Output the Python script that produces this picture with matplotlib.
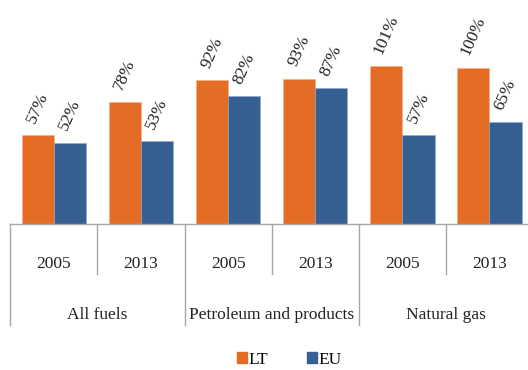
import matplotlib
matplotlib.use("Agg")
import matplotlib.pyplot as plt
from matplotlib.patches import Patch

plt.rcParams['font.family'] = ['Liberation Serif', 'DejaVu Serif']

groups = ["All fuels", "Petroleum and products", "Natural gas"]
years = ["2005", "2013", "2005", "2013", "2005", "2013"]
lt = [57, 78, 92, 93, 101, 100]
eu = [52, 53, 82, 87, 57, 65]

c_lt = "#E46C25"
c_eu = "#366092"
c_line = "#A6A6A6"
c_text = "#222222"

fig = plt.figure(figsize=(5.28, 3.70), dpi=100)
ax = fig.add_axes([0.0197, 0.3946, 0.9896, 0.6054])

x = list(range(len(years)))
w = 0.37
ax.bar([i - w / 2 for i in x], lt, width=w, color=c_lt, edgecolor="#F4B183", linewidth=0.4)
ax.bar([i + w / 2 for i in x], eu, width=w, color=c_eu, edgecolor="#8EA9DB", linewidth=0.4)

# rotated value labels above each bar
for i in x:
    for off, v in ((-w / 2, lt[i]), (w / 2, eu[i])):
        ax.annotate(f"{v}%", (i + off, v), xytext=(0, 7), textcoords="offset points",
                    rotation=66, ha="center", va="bottom", fontsize=12.5, color=c_text)

ax.set_xlim(-0.5, len(years) - 0.5)
ax.set_ylim(0, 143.4)
ax.set_xticks([])
ax.set_yticks([])
for s in ("left", "right", "top"):
    ax.spines[s].set_visible(False)
ax.spines["bottom"].set_color(c_line)
ax.spines["bottom"].set_linewidth(1)

# two-level category axis drawn below the plot
tr = ax.get_xaxis_transform()
ax.plot([-0.5, -0.5], [0, -0.449], transform=tr, color=c_line, lw=1, clip_on=False)
for i in x:
    xs = i + 0.5
    bottom = -0.223 if i % 2 == 0 else -0.449
    ax.plot([xs, xs], [0, bottom], transform=tr, color=c_line, lw=1, clip_on=False)
    ax.text(i, -0.179, years[i], transform=tr, ha="center", va="center",
            fontsize=12.5, color=c_text)
for g, name in enumerate(groups):
    ax.text(2 * g + 0.5, -0.406, name, transform=tr, ha="center", va="center",
            fontsize=12.5, color=c_text)

handles = [Patch(color=c_lt, label="LT"), Patch(color=c_eu, label="EU")]
fig.legend(handles=handles, loc="center", bbox_to_anchor=(0.548, 0.027), ncol=2,
           frameon=False, fontsize=12.5, handlelength=0.6, handleheight=0.6,
           handletextpad=0.1, columnspacing=2.2, borderaxespad=0, borderpad=0)

fig.savefig("out.png", dpi=100)
